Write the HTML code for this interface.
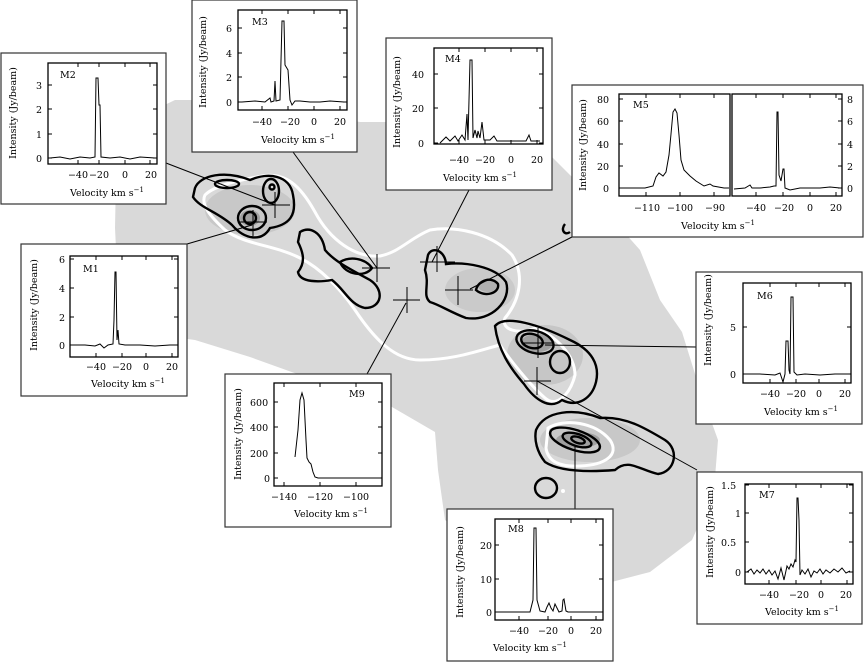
<!DOCTYPE html>
<html><head><meta charset="utf-8"><style>
html,body{margin:0;padding:0;background:#fff}
svg{display:block}
text{font-family:"DejaVu Serif","Liberation Serif",serif;font-size:9.5px;fill:#000}
.b{fill:#fff;stroke:#333;stroke-width:1.2}
.p{fill:none;stroke:#000;stroke-width:1.3}
.s{fill:none;stroke:#000;stroke-width:1}
.k{fill:none;stroke:#000;stroke-width:2.4}
.w{fill:none;stroke:#fff;stroke-width:3}
.l{stroke:#000;stroke-width:1}
</style></head><body>
<svg width="864" height="662" viewBox="0 0 864 662" xmlns="http://www.w3.org/2000/svg">
<polygon fill="#d9d9d9" points="115,228 117,128 175,100 230,100 360,122 400,122 470,135 550,155 600,205 640,250 660,300 682,332 700,390 718,440 714,490 692,540 650,572 600,585 545,578 470,540 445,520 438,470 435,432 380,400 300,375 250,357 195,340 120,330"/>
<ellipse cx="250" cy="210" rx="45" ry="25" fill="#c8c8c8"/>
<ellipse cx="480" cy="290" rx="35" ry="22" fill="#cacaca"/>
<ellipse cx="545" cy="355" rx="38" ry="30" fill="#c6c6c6"/>
<ellipse cx="590" cy="440" rx="50" ry="22" fill="#c8c8c8"/>
<ellipse cx="578" cy="440" rx="22" ry="8" fill="#a0a0a0"/>
<ellipse cx="537" cy="343" rx="16" ry="9" fill="#a0a0a0"/>
<ellipse cx="488" cy="286" rx="10" ry="6" fill="#b0b0b0"/>
<ellipse cx="250" cy="218" rx="10" ry="8" fill="#a0a0a0"/>

<path class="w" d="M205,195 C215,185 240,180 262,176 C285,172 300,185 315,212 C330,240 355,258 380,256 C400,252 410,238 430,230 C455,226 490,232 512,255 C525,275 520,300 505,318 C500,330 520,335 535,328 C555,335 575,355 575,375 C570,395 556,408 545,398 C530,385 510,360 500,345 C480,350 455,360 420,360 C395,360 375,340 355,310 C340,288 320,268 300,258 C275,245 245,245 225,230 C212,218 200,205 205,195 Z"/>
<path class="w" d="M548,428 C565,418 595,422 610,440 C620,455 605,465 580,466 C560,467 548,462 546,448 Z"/>
<path class="k" d="M195,188 C200,175 225,170 250,180 C268,172 290,175 293,195 C297,215 290,225 270,228 C262,242 245,240 232,225 C218,212 200,208 193,197 Z"/>
<ellipse class="k" cx="227" cy="184" rx="12" ry="4"/>
<ellipse class="k" cx="271" cy="191" rx="8" ry="12"/>
<ellipse class="k" cx="272" cy="187" rx="2.5" ry="2.5"/>
<ellipse class="k" cx="252" cy="218" rx="14" ry="12"/>
<ellipse class="k" cx="250" cy="218" rx="6" ry="6"/>
<path class="k" d="M300,232 C310,226 322,232 325,250 C335,262 352,270 370,280 C385,290 382,308 365,308 C350,305 345,290 332,280 C320,282 300,283 298,272 C306,262 303,252 298,242 Z"/>
<path class="k" d="M340,262 C350,256 365,258 372,268 C365,278 345,275 340,262 Z"/>
<path class="k" d="M428,255 C432,246 445,250 446,264 C465,262 495,266 506,282 C512,300 492,322 466,318 C450,312 440,305 430,302 C422,295 430,285 425,270 Z"/>
<path class="k" d="M476,290 C478,280 492,276 498,284 C500,293 485,298 476,290 Z"/>
<path class="k" d="M495,326 C505,314 540,325 570,340 C592,350 600,365 596,382 C592,398 578,408 562,400 C550,410 535,400 524,384 C510,368 498,350 495,326 Z"/>
<ellipse class="k" cx="535" cy="342" rx="19" ry="11" transform="rotate(15 535 342)"/>
<ellipse class="k" cx="532" cy="341" rx="11" ry="7" transform="rotate(15 532 341)"/>
<ellipse class="k" cx="560" cy="362" rx="10" ry="11"/>
<path class="k" d="M536,430 C545,410 575,408 600,418 C625,416 645,428 665,440 C680,450 675,472 658,474 C640,470 628,458 615,470 C590,472 560,472 545,462 C537,452 534,440 536,430 Z"/>
<ellipse class="k" cx="575" cy="440" rx="26" ry="10" transform="rotate(18 575 440)"/>
<ellipse class="k" cx="577" cy="440" rx="15" ry="6" transform="rotate(18 577 440)"/>
<ellipse class="k" cx="578" cy="440" rx="7" ry="3" transform="rotate(18 578 440)"/>
<ellipse class="k" cx="546" cy="488" rx="11" ry="10"/>
<circle cx="563" cy="491" r="2" fill="#fff"/>
<path class="k" d="M565,224 C560,230 565,236 570,232"/>

<g class="l">
<path d="M262,205H290M275,192V218"/>
<path d="M240,222H267M253,210V236"/>
<path d="M362,268H390M377,254V282"/>
<path d="M393,300H420M407,287V313"/>
<path d="M420,262H455M437,246V272"/>
<path d="M445,290H473M458,276V305"/>
<path d="M522,343H553M538,328V358"/>
<path d="M524,381H551M537,367V395"/>
</g>
<g class="l">
<line x1="166" y1="163" x2="275" y2="205"/>
<line x1="187" y1="244" x2="252" y2="225"/>
<line x1="293" y1="152" x2="377" y2="268"/>
<line x1="469" y1="190" x2="432" y2="262"/>
<line x1="367" y1="374" x2="406" y2="303"/>
<line x1="572" y1="237" x2="470" y2="289"/>
<line x1="696" y1="347" x2="545" y2="345"/>
<line x1="697" y1="470" x2="537" y2="381"/>
<line x1="575" y1="509" x2="575" y2="445"/>
</g>

<!-- M2 -->
<rect class="b" x="1" y="53" width="165" height="151"/>
<rect class="p" x="48" y="63" width="109" height="101"/>
<path class="s" d="M78,63v4M99,63v4M125,63v4M150,63v4M78,164v-4M99,164v-4M125,164v-4M150,164v-4M48,85h4M48,109h4M48,134h4M48,158h4M157,85h-4M157,109h-4M157,134h-4M157,158h-4"/>
<polyline class="s" points="50,158 60,157 70,159 80,157 90,158 95,157 96,78 98,78 99,105 100,105 101,157 110,158 120,157 130,159 140,157 155,158"/>
<text x="60" y="78">M2</text>
<text x="36" y="89">3</text><text x="36" y="113">2</text><text x="36" y="138">1</text><text x="36" y="162">0</text>
<text x="78" y="178" text-anchor="middle">−40</text><text x="99" y="178" text-anchor="middle">−20</text><text x="125" y="178" text-anchor="middle">0</text><text x="151" y="178" text-anchor="middle">20</text>
<text x="107" y="196" text-anchor="middle">Velocity km s<tspan dy="-4" font-size="7">−1</tspan></text>
<text transform="translate(16,113) rotate(-90)" text-anchor="middle">Intensity (Jy/beam)</text>

<!-- M3 -->
<rect class="b" x="192" y="0" width="165" height="152"/>
<rect class="p" x="238" y="10" width="109" height="100"/>
<path class="s" d="M262,10v4M288,10v4M314,10v4M340,10v4M262,110v-4M288,110v-4M314,110v-4M340,110v-4M238,28h4M238,53h4M238,77h4M238,102h4M347,28h-4M347,53h-4M347,77h-4M347,102h-4"/>
<polyline class="s" points="242,102 255,101 265,102 270,98 271,102 274,101 275,81 276,101 280,100 282,21 284,21 285,65 288,70 290,100 292,105 295,101 300,101 310,102 320,102 330,101 344,102"/>
<text x="252" y="25">M3</text>
<text x="226" y="32">6</text><text x="226" y="57">4</text><text x="226" y="81">2</text><text x="226" y="106">0</text>
<text x="262" y="125" text-anchor="middle">−40</text><text x="290" y="125" text-anchor="middle">−20</text><text x="314" y="125" text-anchor="middle">0</text><text x="340" y="125" text-anchor="middle">20</text>
<text x="298" y="143" text-anchor="middle">Velocity km s<tspan dy="-4" font-size="7">−1</tspan></text>
<text transform="translate(206,62) rotate(-90)" text-anchor="middle">Intensity (Jy/beam)</text>

<!-- M4 -->
<rect class="b" x="386" y="38" width="166" height="152"/>
<rect class="p" x="434" y="48" width="109" height="96"/>
<path class="s" d="M459,48v4M485,48v4M511,48v4M537,48v4M459,144v-4M485,144v-4M511,144v-4M537,144v-4M434,74h4M434,108h4M434,143h4M543,74h-4M543,108h-4M543,143h-4"/>
<polyline class="s" points="440,143 446,137 450,141 455,136 458,141 462,135 465,140 467,114 468,140 470,60 472,60 473,138 475,130 477,138 478,131 480,138 482,122 484,140 490,140 494,136 497,141 510,141 526,141 529,135 531,141 540,141"/>
<text x="445" y="62">M4</text>
<text x="412" y="78">40</text><text x="412" y="112">20</text><text x="418" y="147">0</text>
<text x="459" y="163" text-anchor="middle">−40</text><text x="485" y="163" text-anchor="middle">−20</text><text x="511" y="163" text-anchor="middle">0</text><text x="537" y="163" text-anchor="middle">20</text>
<text x="480" y="181" text-anchor="middle">Velocity km s<tspan dy="-4" font-size="7">−1</tspan></text>
<text transform="translate(400,102) rotate(-90)" text-anchor="middle">Intensity (Jy/beam)</text>

<!-- M5 -->
<rect class="b" x="572" y="85" width="291" height="152"/>
<rect class="p" x="619" y="94" width="111" height="102"/>
<rect class="p" x="732" y="94" width="110" height="102"/>
<path class="s" d="M646,94v4M680,94v4M714,94v4M646,196v-4M680,196v-4M714,196v-4M619,99h4M619,121h4M619,144h4M619,166h4M619,188h4M756,94v4M783,94v4M810,94v4M836,94v4M756,196v-4M783,196v-4M810,196v-4M836,196v-4M842,99h-4M842,121h-4M842,144h-4M842,166h-4M842,188h-4"/>
<polyline class="s" points="620,188 645,188 653,186 656,177 659,173 663,176 666,172 669,155 671,134 673,112 675,109 677,113 679,135 681,160 684,170 690,176 696,181 704,186 710,184 713,186 724,188 729,188"/>
<polyline class="s" points="734,189 745,188 750,185 752,188 760,188 770,187 774,186 776,186 777,112 778,112 779,175 781,181 783,169 784,169 785,188 790,190 800,188 810,188 820,188 830,187 840,188"/>
<text x="633" y="108">M5</text>
<text x="597" y="103">80</text><text x="597" y="125">60</text><text x="597" y="148">40</text><text x="597" y="170">20</text><text x="603" y="192">0</text>
<text x="847" y="103">8</text><text x="847" y="125">6</text><text x="847" y="148">4</text><text x="847" y="170">2</text><text x="847" y="192">0</text>
<text x="647" y="211" text-anchor="middle">−110</text><text x="680" y="211" text-anchor="middle">−100</text><text x="715" y="211" text-anchor="middle">−90</text>
<text x="756" y="211" text-anchor="middle">−40</text><text x="784" y="211" text-anchor="middle">−20</text><text x="810" y="211" text-anchor="middle">0</text><text x="836" y="211" text-anchor="middle">20</text>
<text x="718" y="229" text-anchor="middle">Velocity km s<tspan dy="-4" font-size="7">−1</tspan></text>
<text transform="translate(586,145) rotate(-90)" text-anchor="middle">Intensity (Jy/beam)</text>

<!-- M1 -->
<rect class="b" x="21" y="244" width="166" height="152"/>
<rect class="p" x="70" y="256" width="108" height="101"/>
<path class="s" d="M96,256v4M122,256v4M146,256v4M172,256v4M96,357v-4M122,357v-4M146,357v-4M172,357v-4M70,259h4M70,288h4M70,317h4M70,345h4M178,259h-4M178,288h-4M178,317h-4M178,345h-4"/>
<polyline class="s" points="72,345 85,345 95,346 100,344 104,348 108,345 113,344 114,320 115,272 116,272 117,340 118,330 119,344 125,345 140,345 155,346 170,345 175,345"/>
<text x="83" y="272">M1</text>
<text x="59" y="263">6</text><text x="59" y="292">4</text><text x="59" y="321">2</text><text x="59" y="349">0</text>
<text x="96" y="370" text-anchor="middle">−40</text><text x="122" y="370" text-anchor="middle">−20</text><text x="146" y="370" text-anchor="middle">0</text><text x="172" y="370" text-anchor="middle">20</text>
<text x="128" y="387" text-anchor="middle">Velocity km s<tspan dy="-4" font-size="7">−1</tspan></text>
<text transform="translate(37,305) rotate(-90)" text-anchor="middle">Intensity (Jy/beam)</text>

<!-- M9 -->
<rect class="b" x="225" y="374" width="166" height="153"/>
<rect class="p" x="274" y="383" width="108" height="103"/>
<path class="s" d="M284,383v4M320,383v4M356,383v4M284,486v-4M320,486v-4M356,486v-4M274,402h4M274,427h4M274,453h4M274,478h4M382,402h-4M382,427h-4M382,453h-4M382,478h-4"/>
<polyline class="s" points="295,457 298,430 300,400 302,393 304,400 306,440 307,458 309,462 311,464 313,472 315,477 318,478 330,478 350,478 381,478"/>
<text x="349" y="397">M9</text>
<text x="250" y="406">600</text><text x="250" y="431">400</text><text x="250" y="457">200</text><text x="264" y="482">0</text>
<text x="284" y="500" text-anchor="middle">−140</text><text x="320" y="500" text-anchor="middle">−120</text><text x="356" y="500" text-anchor="middle">−100</text>
<text x="331" y="517" text-anchor="middle">Velocity km s<tspan dy="-4" font-size="7">−1</tspan></text>
<text transform="translate(241,434) rotate(-90)" text-anchor="middle">Intensity (Jy/beam)</text>

<!-- M6 -->
<rect class="b" x="696" y="272" width="166" height="152"/>
<rect class="p" x="743" y="283" width="108" height="100"/>
<path class="s" d="M770,283v4M796,283v4M819,283v4M845,283v4M770,383v-4M796,383v-4M819,383v-4M845,383v-4M743,327h4M743,374h4M851,327h-4M851,374h-4"/>
<polyline class="s" points="745,374 760,374 775,375 780,373 783,382 785,374 786,341 788,341 789,370 790,374 791,297 793,297 794,372 797,375 805,374 820,375 835,374 849,374"/>
<text x="757" y="299">M6</text>
<text x="730" y="331">5</text><text x="730" y="378">0</text>
<text x="770" y="397" text-anchor="middle">−40</text><text x="796" y="397" text-anchor="middle">−20</text><text x="819" y="397" text-anchor="middle">0</text><text x="845" y="397" text-anchor="middle">20</text>
<text x="801" y="415" text-anchor="middle">Velocity km s<tspan dy="-4" font-size="7">−1</tspan></text>
<text transform="translate(711,320) rotate(-90)" text-anchor="middle">Intensity (Jy/beam)</text>

<!-- M7 -->
<rect class="b" x="697" y="472" width="165" height="152"/>
<rect class="p" x="745" y="484" width="108" height="100"/>
<path class="s" d="M769,484v4M796,484v4M821,484v4M847,484v4M769,584v-4M796,584v-4M821,584v-4M847,584v-4M745,485h4M745,513h4M745,542h4M745,572h4M853,485h-4M853,513h-4M853,542h-4M853,572h-4"/>
<polyline class="s" points="747,572 751,569 754,574 757,570 760,573 763,569 766,574 769,570 772,575 775,571 778,579 781,568 784,580 787,566 789,569 791,564 793,567 795,560 796,562 797,498 798,498 799,520 800,575 802,570 805,574 808,569 811,577 814,571 817,573 820,569 823,574 826,570 830,573 834,569 838,572 842,568 846,573 850,571"/>
<text x="759" y="498">M7</text>
<text x="721" y="489">1.5</text><text x="735" y="517">1</text><text x="721" y="546">0.5</text><text x="735" y="576">0</text>
<text x="769" y="598" text-anchor="middle">−40</text><text x="799" y="598" text-anchor="middle">−20</text><text x="821" y="598" text-anchor="middle">0</text><text x="846" y="598" text-anchor="middle">20</text>
<text x="802" y="615" text-anchor="middle">Velocity km s<tspan dy="-4" font-size="7">−1</tspan></text>
<text transform="translate(713,532) rotate(-90)" text-anchor="middle">Intensity (Jy/beam)</text>

<!-- M8 -->
<rect class="b" x="447" y="509" width="166" height="152"/>
<rect class="p" x="495" y="519" width="108" height="101"/>
<path class="s" d="M519,519v4M548,519v4M571,519v4M596,519v4M519,620v-4M548,620v-4M571,620v-4M596,620v-4M495,545h4M495,579h4M495,612h4M603,545h-4M603,579h-4M603,612h-4"/>
<polyline class="s" points="497,612 520,612 530,612 533,600 534,528 536,528 537,600 540,611 545,612 547,607 549,603 551,608 553,611 555,604 557,608 559,612 562,611 563,600 564,599 566,611 568,612 601,612"/>
<text x="508" y="532">M8</text>
<text x="480" y="549">20</text><text x="480" y="583">10</text><text x="486" y="616">0</text>
<text x="519" y="634" text-anchor="middle">−40</text><text x="548" y="634" text-anchor="middle">−20</text><text x="571" y="634" text-anchor="middle">0</text><text x="596" y="634" text-anchor="middle">20</text>
<text x="530" y="651" text-anchor="middle">Velocity km s<tspan dy="-4" font-size="7">−1</tspan></text>
<text transform="translate(463,572) rotate(-90)" text-anchor="middle">Intensity (Jy/beam)</text>
</svg>
</body></html>
